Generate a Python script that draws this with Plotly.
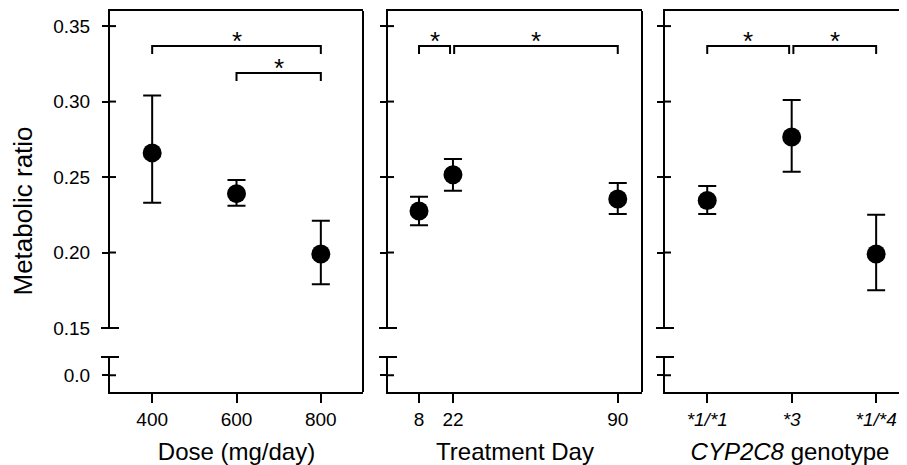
import plotly.graph_objects as go

W, H = 907, 465

# ---------------- data ----------------
dose = [400, 600, 800]
dose_mean = [0.266, 0.239, 0.199]
dose_hi = [0.304, 0.248, 0.221]
dose_lo = [0.233, 0.231, 0.179]

day = [8, 22, 90]
day_mean = [0.2275, 0.2515, 0.2355]
day_hi = [0.237, 0.262, 0.246]
day_lo = [0.218, 0.241, 0.2255]

genotype = ["*1/*1", "*3", "*1/*4"]
geno_pos = [0, 1, 2]
geno_mean = [0.2345, 0.2765, 0.199]
geno_hi = [0.244, 0.301, 0.225]
geno_lo = [0.2255, 0.2535, 0.175]

y_upper_ticks = [0.15, 0.20, 0.25, 0.30, 0.35]
y_upper_labels = ["0.15", "0.20", "0.25", "0.30", "0.35"]
y_lower_ticks = [0.0]
y_lower_labels = ["0.0"]

brackets_dose = [(400, 800, 0.3368), (600, 800, 0.3189)]
brackets_day = [(8, 20.8, 0.3368), (22.5, 90, 0.3368)]
brackets_geno = [(0, 0.97, 0.3368), (1.02, 2, 0.3368)]

# ---------------- layout geometry (screen pixels) ----------------
OFF = 8  # page body margin offset
col_px = [(110, 363), (388, 642), (665, 915)]
upper_px = (11, 328)
lower_px = (357, 392)
x_ranges = [[300, 900], [-4.8, 100], [-0.5, 2.46]]
upper_range = [0.15, 0.36]
lower_range = [-0.011, 0.012]
px_per_unit = (upper_px[1] - upper_px[0]) / (upper_range[1] - upper_range[0])

FONT = "Liberation Sans, Arial, sans-serif"
LW = 2
TICK_SIZE = 19
TITLE_SIZE = 24


def fx(p):
    return (p - OFF) / W


def fy(p):
    return 1 - (p - OFF) / H


def aref(letter, n):
    return letter if n == 1 else "%s%d" % (letter, n)


def akey(letter, n):
    return "%saxis" % letter if n == 1 else "%saxis%d" % (letter, n)


panels = [
    dict(x=dose, m=dose_mean, hi=dose_hi, lo=dose_lo, br=brackets_dose,
         tickvals=dose, ticktext=[str(v) for v in dose], title="Dose (mg/day)"),
    dict(x=day, m=day_mean, hi=day_hi, lo=day_lo, br=brackets_day,
         tickvals=day, ticktext=[str(v) for v in day], title="Treatment Day"),
    dict(x=geno_pos, m=geno_mean, hi=geno_hi, lo=geno_lo, br=brackets_geno,
         tickvals=geno_pos, ticktext=["<i>%s</i>" % g for g in genotype],
         title="<i>CYP2C8</i> genotype"),
]

fig = go.Figure()
layout = dict(
    width=W, height=H,
    margin=dict(l=0, r=0, t=0, b=0),
    paper_bgcolor="white", plot_bgcolor="white",
    showlegend=False,
    font=dict(family=FONT, size=TICK_SIZE, color="black"),
    template="none",
)
shapes = []
annotations = []
leg = 8 / px_per_unit

for i, p in enumerate(panels):
    lo_n = i + 1          # lower row axes
    up_n = i + 4          # upper row axes
    xl, xu = aref("x", lo_n), aref("x", up_n)
    yl, yu = aref("y", lo_n), aref("y", up_n)
    dom = [max(0, fx(col_px[i][0])), min(1, fx(col_px[i][1]))]

    layout[akey("x", lo_n)] = dict(
        domain=dom, anchor=yl, range=x_ranges[i], showgrid=False, zeroline=False,
        showline=True, linewidth=LW, linecolor="black",
        ticks="outside", ticklen=9, tickwidth=LW, tickcolor="black",
        tickvals=p["tickvals"], ticktext=p["ticktext"],
        tickfont=dict(size=TICK_SIZE), automargin=False,
        title=dict(text=p["title"], font=dict(size=TITLE_SIZE), standoff=14),
    )
    layout[akey("x", up_n)] = dict(
        domain=dom, anchor=yu, range=x_ranges[i], side="top", matches=xl,
        showgrid=False, zeroline=False, showline=True, linewidth=LW,
        linecolor="black", ticks="", showticklabels=False, automargin=False,
    )
    show_lab = (i == 0)
    layout[akey("y", lo_n)] = dict(
        domain=[fy(lower_px[1]), fy(lower_px[0])], anchor=xl, range=lower_range,
        showgrid=False, zeroline=False, showline=True, linewidth=LW,
        linecolor="black", ticks="outside", ticklen=6, tickwidth=LW,
        tickcolor="black", tickvals=y_lower_ticks, ticktext=y_lower_labels,
        showticklabels=show_lab, tickfont=dict(size=TICK_SIZE), automargin=False,
        ticklabelstandoff=8,
    )
    layout[akey("y", up_n)] = dict(
        domain=[fy(upper_px[1]), fy(upper_px[0])], anchor=xu, range=upper_range,
        showgrid=False, zeroline=False, showline=True, linewidth=LW,
        linecolor="black", ticks="outside", ticklen=6, tickwidth=LW,
        tickcolor="black", tickvals=y_upper_ticks, ticktext=y_upper_labels,
        showticklabels=show_lab, tickfont=dict(size=TICK_SIZE), automargin=False,
        ticklabelstandoff=8,
    )

    wpx = (dom[1] - dom[0]) * W
    # inner halves of the crossing y ticks
    for tv in y_upper_ticks:
        shapes.append(dict(type="line", xref="%s domain" % xu, yref=yu,
                           x0=0, x1=6 / wpx, y0=tv, y1=tv,
                           line=dict(color="black", width=LW)))
    for tv in y_lower_ticks:
        shapes.append(dict(type="line", xref="%s domain" % xl, yref=yl,
                           x0=0, x1=6 / wpx, y0=tv, y1=tv,
                           line=dict(color="black", width=LW)))
    # axis-break caps
    shapes.append(dict(type="line", xref="%s domain" % xu, yref="%s domain" % yu,
                       x0=-9 / wpx, x1=9 / wpx, y0=0, y1=0,
                       line=dict(color="black", width=LW)))
    shapes.append(dict(type="line", xref="%s domain" % xl, yref="%s domain" % yl,
                       x0=-9 / wpx, x1=9 / wpx, y0=1, y1=1,
                       line=dict(color="black", width=LW)))
    # right border (not for the last, clipped panel)
    if i < 2:
        shapes.append(dict(type="line", xref="%s domain" % xu, yref="paper",
                           x0=1, x1=1, y0=fy(lower_px[1]), y1=fy(upper_px[0]),
                           line=dict(color="black", width=LW)))

    # data
    fig.add_trace(go.Scatter(
        x=p["x"], y=p["m"], mode="markers", xaxis=xu, yaxis=yu,
        marker=dict(size=19, color="black"),
        error_y=dict(type="data", symmetric=False,
                     array=[h - m for h, m in zip(p["hi"], p["m"])],
                     arrayminus=[m - l for m, l in zip(p["m"], p["lo"])],
                     thickness=LW, width=9, color="black"),
        hoverinfo="skip",
    ))
    # significance brackets
    for (b0, b1, top) in p["br"]:
        fig.add_trace(go.Scatter(
            x=[b0, b0, b1, b1], y=[top - leg, top, top, top - leg],
            mode="lines", xaxis=xu, yaxis=yu,
            line=dict(color="black", width=LW), hoverinfo="skip",
        ))
        annotations.append(dict(
            x=(b0 + b1) / 2, y=top, xref=xu, yref=yu, text="*",
            showarrow=False, yanchor="bottom", yshift=-12,
            font=dict(size=26, family=FONT, color="black"),
        ))

annotations.append(dict(
    x=fx(22.5), y=fy(211), xref="paper", yref="paper", text="Metabolic ratio",
    textangle=-90, showarrow=False, xanchor="center", yanchor="middle",
    font=dict(size=26, family=FONT, color="black"),
))

layout["shapes"] = shapes
layout["annotations"] = annotations
fig.update_layout(**layout)
fig.write_html("out.html")
